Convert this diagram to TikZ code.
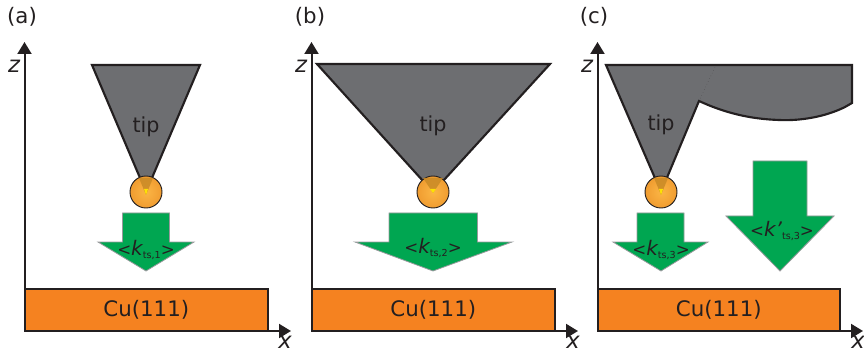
\documentclass[tikz,border=0pt]{standalone}
\usepackage{fontspec}
\setmainfont{DejaVu Sans}
\usepackage{xcolor}
\usetikzlibrary{arrows.meta}
\definecolor{tipgrey}{HTML}{6D6E71}
\definecolor{inkblack}{HTML}{231F20}
\definecolor{slaborange}{HTML}{F58220}
\definecolor{forcegreen}{HTML}{00A651}
\definecolor{shadeorange}{HTML}{C98A26}
\definecolor{ballinner}{HTML}{FBB545}
\definecolor{ballouter}{HTML}{F09C30}
\newcommand{\ratesub}[2][]{{\fontsize{15}{16}\selectfont\itshape k#1}\raisebox{-2.5pt}{\fontsize{7.2}{8}\selectfont #2}}

\begin{document}
\begin{tikzpicture}[x=0.75pt, y=-0.75pt, inner sep=0pt,
  axis/.style={-{Triangle[length=9pt, width=10.5pt]}, line width=1.5pt, draw=inkblack},
  slab/.style={draw=inkblack, line width=1.6pt, fill=slaborange, minimum width=182.6pt,
    minimum height=31pt, font=\fontsize{16}{18}\selectfont, text=inkblack},
  tipbody/.style={draw=inkblack, line width=1.6pt, fill=tipgrey, line join=miter},
  ball/.style={circle, draw=inkblack, line width=0.7pt, minimum size=24pt,
    inner color=ballinner, outer color=ballouter},
  shade/.style={fill=shadeorange, opacity=0.85},
  spot/.style={fill=yellow!85!orange},
  force/.style={draw=tipgrey!70, line width=0.6pt, fill=forcegreen},
  panel/.style={font=\fontsize{16}{18}\selectfont, text=inkblack},
  axislabel/.style={font=\fontsize{17}{18}\selectfont\itshape, text=inkblack},
  tiplabel/.style={font=\fontsize{15.5}{18}\selectfont, text=inkblack},
  ratelabel/.style={font=\fontsize{12.5}{16}\selectfont, text=inkblack}]
  \useasboundingbox (0,0) rectangle (864,356);

  % panel a
  \node[panel] (la) at (22,17) {(a)};
  \draw[tipbody] (92,65) -- (200,65) -- (146,192) -- cycle;
  \node[tiplabel] (ta) at (146,127) {tip};
  \node[ball] (ba) at (146,192) {};
  \fill[shade] (139,178) -- (153,178) -- (146,195) -- cycle;
  \fill[spot] (144,189) -- (148,189) -- (146,195) -- cycle;
  \draw[force] (122.5,213) -- (169.5,213) -- (169.5,242) -- (194,242) -- (146,271)
    -- (98,242) -- (122.5,242) -- cycle;
  \node[ratelabel] (ra) at (146,250) {<\ratesub{ts,1}>};
  \coordinate (oa) at (24.5,331);
  \coordinate (za) at (24.5,42);
  \coordinate (xa) at (291,331);
  \node[slab] (ca) at (146.3,310) {Cu(111)};
  \draw[axis] (oa) -- (za);
  \draw[axis] (oa) -- (xa);
  \node[axislabel] (na) at (14,66) {z};
  \node[axislabel] (ma) at (285,342) {x};

  % panel b
  \node[panel] (lb) at (310,17) {(b)};
  \draw[tipbody] (317,64) -- (550,64) -- (433,192) -- cycle;
  \node[tiplabel] (tb) at (433,126) {tip};
  \node[ball] (bb) at (433,192) {};
  \fill[shade] (423,178) -- (443,178) -- (433,193) -- cycle;
  \fill[spot] (430,189) -- (436,189) -- (433,193) -- cycle;
  \draw[force] (389,213) -- (477.5,213) -- (477.5,242) -- (512,242) -- (433,271)
    -- (355,242) -- (389,242) -- cycle;
  \node[ratelabel] (rb) at (433,248) {<\ratesub{ts,2}>};
  \coordinate (ob) at (311.5,331);
  \coordinate (zb) at (311.5,42);
  \coordinate (xb) at (578,331);
  \node[slab] (cb) at (433.3,310) {Cu(111)};
  \draw[axis] (ob) -- (zb);
  \draw[axis] (ob) -- (xb);
  \node[axislabel] (nb) at (301,66) {z};
  \node[axislabel] (mb) at (573,342) {x};

  % panel c
  \node[panel] (lc) at (594,17) {(c)};
  \draw[tipbody] (606,65) -- (852,65) -- (852,103) -- (845,107)
    .. controls (825,117) and (800,121) .. (779,120)
    .. controls (750,119) and (725,113) .. (699,101) -- (661,192) -- cycle;
  \draw[tipgrey!40!inkblack, line width=0.3pt, dotted] (699,101) -- (716,65);
  \node[tiplabel] (tc) at (661,125) {tip};
  \node[ball] (bc) at (661,192) {};
  \fill[shade] (654,178) -- (668,178) -- (661,195) -- cycle;
  \fill[spot] (659,189) -- (663,189) -- (661,195) -- cycle;
  \draw[force] (637,213) -- (684,213) -- (684,242) -- (708,242) -- (661,271)
    -- (613,242) -- (637,242) -- cycle;
  \node[ratelabel] (rc) at (661,250) {<\ratesub{ts,3}>};
  \draw[force] (753,161) -- (807,161) -- (807,216) -- (834,216) -- (780,271)
    -- (726,216) -- (753,216) -- cycle;
  \node[ratelabel] (rd) at (782,231) {<\ratesub[']{ts,3}>};
  \coordinate (oc) at (597.5,331);
  \coordinate (zc) at (597.5,42);
  \coordinate (xc) at (863,331);
  \node[slab, minimum width=181.8pt] (cc) at (718.8,310) {Cu(111)};
  \draw[axis] (oc) -- (zc);
  \draw[axis] (oc) -- (xc);
  \node[axislabel] (nc) at (587,66) {z};
  \node[axislabel] (mc) at (858,342) {x};
\end{tikzpicture}
\end{document}
